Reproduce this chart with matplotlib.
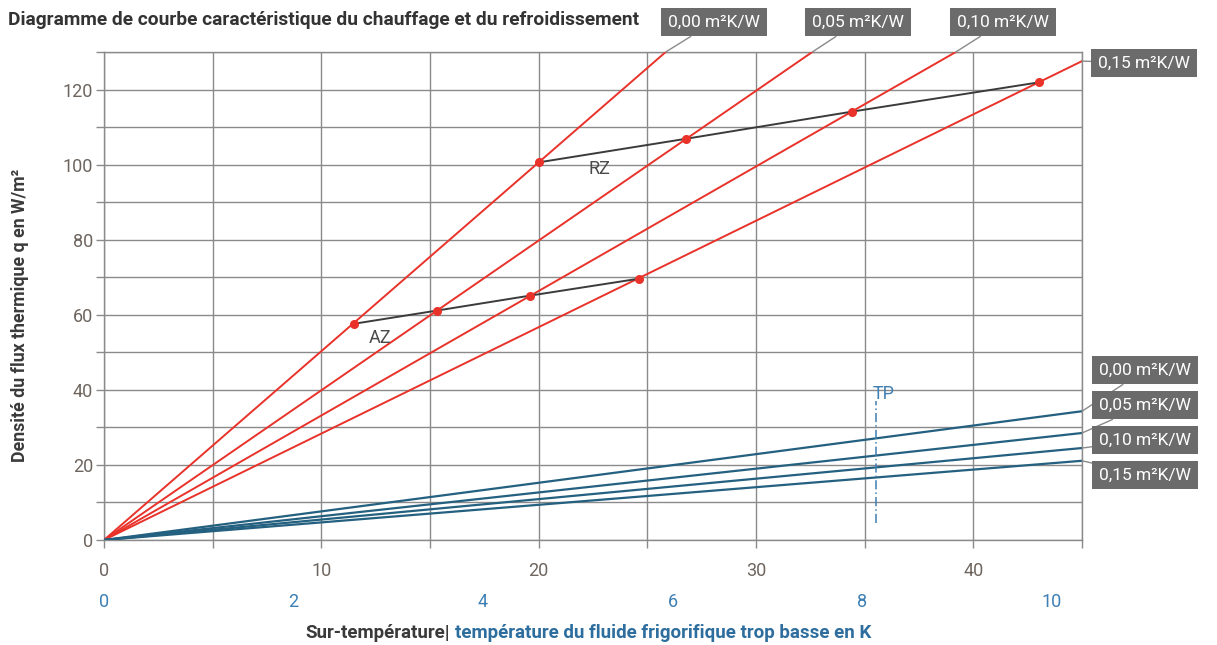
import matplotlib.pyplot as plt
import numpy as np

plt.rcParams['font.family'] = ['Roboto', 'DejaVu Sans']

# heating (red) lines: AZ and RZ operating points, one per R_lambda value
r_labels = ['0,00 m²K/W', '0,05 m²K/W', '0,10 m²K/W', '0,15 m²K/W']
az_x = [11.5, 15.3, 19.6, 24.6]
az_q = [57.6, 61.1, 65.1, 69.6]
rz_x = [20.0, 26.8, 34.4, 43.0]
rz_q = [100.6, 106.9, 114.1, 121.9]

# cooling (blue) lines, q read at the right edge of the chart (cooling K)
cool_x_end = 10.32
cool_q_end = [34.3, 28.5, 24.5, 21.1]

# TP marker (cooling K)
tp_x = 8.15
tp_q = [4.5, 37.0]

heat_ticks = [0, 10, 20, 30, 40]
cool_ticks = [0, 2, 4, 6, 8, 10]
y_ticks = [0, 20, 40, 60, 80, 100, 120]

K = 43.6 / 10.0  # heating K per cooling K
def h2c(x):
    return np.asarray(x) / K
def c2h(x):
    return np.asarray(x) * K

RED = '#e8322a'
BLUE = '#24607f'
DARK = '#3b3b3b'
GRID = '#8a8a8a'
BOX = '#6b6b6b'
TICKC = '#6e655e'
CBLUE = '#3d7fb3'

fig = plt.figure(figsize=(12.17, 6.45), dpi=100)
ax = fig.add_axes([104/1217, 1-540/645, (1082-104)/1217, (540-52)/645])
ax.set_xlim(0, 45)
ax.set_ylim(0, 130)

ax.set_xticks(np.arange(0, 46, 5), minor=False)
ax.set_xticklabels([str(int(v)) if v in heat_ticks else '' for v in np.arange(0, 46, 5)])
ax.set_yticks(np.arange(0, 131, 10))
ax.set_yticklabels([str(int(v)) if v in y_ticks else '' for v in np.arange(0, 131, 10)])
ax.grid(True, color=GRID, lw=1.0)
ax.set_axisbelow(True)
for s in ax.spines.values():
    s.set_color(GRID)
    s.set_linewidth(1.0)
ax.tick_params(axis='x', length=6, width=1.0, color=GRID, pad=10, labelsize=13, labelcolor=TICKC)
ax.tick_params(axis='y', length=6, width=1.0, color=GRID, pad=2, labelsize=13, labelcolor=TICKC)

# red heating lines
for i in range(4):
    slope = rz_q[i] / rz_x[i]
    ax.plot([0, 45], [0, 45 * slope], color=RED, lw=1.4, zorder=3)

# AZ / RZ connecting lines
ax.plot(az_x, az_q, color=DARK, lw=1.4, zorder=4)
ax.plot(rz_x, rz_q, color=DARK, lw=1.4, zorder=4)
ax.plot(az_x, az_q, 'o', color=RED, ms=5.5, zorder=5)
ax.plot(rz_x, rz_q, 'o', color=RED, ms=5.5, zorder=5)
ax.text(12.2, 52.5, 'AZ', fontsize=13, color='#4a4a4a', zorder=6)
ax.text(22.3, 97.5, 'RZ', fontsize=13, color='#4a4a4a', zorder=6)

# blue cooling lines
for q in cool_q_end:
    ax.plot([0, c2h(cool_x_end)], [0, q], color=BLUE, lw=1.6, zorder=3)

ax.plot([c2h(tp_x)] * 2, tp_q, color=CBLUE, lw=1.1, ls=(0, (6, 2, 1, 2)), zorder=3)
ax.text(c2h(tp_x) - 0.15, tp_q[1] + 0.5, 'TP', fontsize=13, color=CBLUE)

# secondary cooling axis
sec = ax.secondary_xaxis(-0.1, functions=(h2c, c2h))
sec.set_xticks(cool_ticks)
sec.spines['bottom'].set_visible(False)
sec.tick_params(length=0, pad=3, labelsize=13, labelcolor=CBLUE)

# labels in boxes
bbox = dict(boxstyle='square,pad=0.4', fc=BOX, ec='none')
arrow = dict(arrowstyle='-', color=GRID, lw=1.0, shrinkA=0, shrinkB=0)
top_pos = [(714, 623), (858, 623), (1003, 623), (1144, 582)]
for i in range(4):
    slope = rz_q[i] / rz_x[i]
    if i < 3:
        xy = (130 / slope, 130)
    else:
        xy = (45, 45 * slope)
    ax.annotate(r_labels[i], xy=xy, xytext=top_pos[i], textcoords='figure pixels',
                ha='center', va='center', color='white', fontsize=12.5, bbox=bbox,
                arrowprops=arrow, annotation_clip=False)

right_pos = [(1145, 275), (1145, 240), (1145, 205), (1145, 170)]
for i in range(4):
    ax.annotate(r_labels[i], xy=(45, cool_q_end[i]), xytext=right_pos[i],
                textcoords='figure pixels', ha='center', va='center', color='white',
                fontsize=12.5, bbox=bbox, arrowprops=arrow, annotation_clip=False)

fig.text(8/1217, 1-20/645, 'Diagramme de courbe caractéristique du chauffage et du refroidissement',
         fontsize=13.8, fontweight='bold', color='#333333', va='center', ha='left')
fig.text(20/1217, 1-315/645, 'Densité du flux thermique q en W/m²', rotation=90,
         fontsize=12.8, fontweight='bold', color='#3a3a3a', va='center', ha='center')
fig.text(450/1217, 1-633/645, 'Sur-température|', fontsize=13.5, fontweight='bold',
         color='#3a3a3a', va='center', ha='right')
fig.text(455/1217, 1-633/645, 'température du fluide frigorifique trop basse en K', fontsize=13.5,
         fontweight='bold', color='#2d6e9e', va='center', ha='left')

fig.savefig('out.png', dpi=100)
